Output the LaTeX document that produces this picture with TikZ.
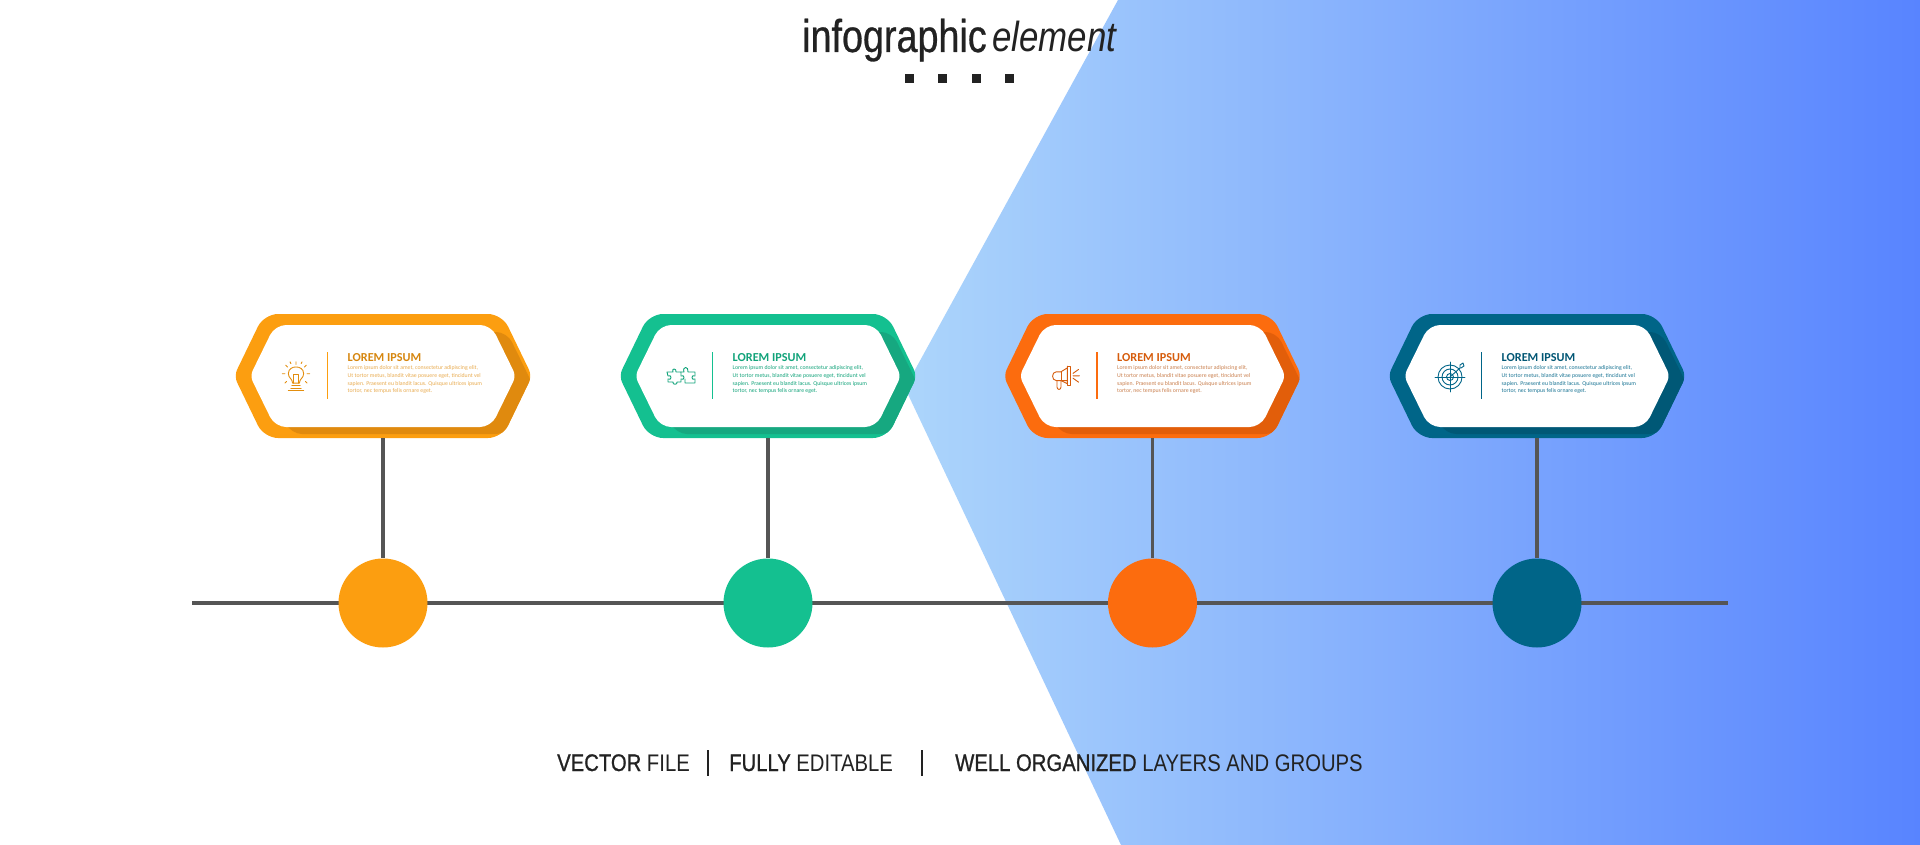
\documentclass[tikz,border=0pt]{standalone}
\usepackage{fontspec}
\usepackage{xcolor}
\setmainfont{Liberation Sans}
\newfontfamily\cardfont{Carlito}
\newfontfamily\condfont[FakeStretch=0.82, FakeBold=0.6]{Liberation Sans}
\newfontfamily\slimfont[FakeStretch=0.83]{Liberation Sans}
\newfontfamily\wordfont[FakeStretch=0.845]{Liberation Sans}
\newfontfamily\wordheavy[FakeStretch=0.845, FakeBold=0.9]{Liberation Sans}
\usetikzlibrary{positioning, calc, arrows.meta}
\definecolor{igAmber}{RGB}{252, 158, 16}
\definecolor{igAmberDk}{RGB}{224, 138, 14}
\definecolor{igGreen}{RGB}{20, 192, 144}
\definecolor{igGreenDk}{RGB}{22, 168, 128}
\definecolor{igOrange}{RGB}{252, 108, 14}
\definecolor{igOrangeDk}{RGB}{226, 94, 10}
\definecolor{igTeal}{RGB}{0, 101, 136}
\definecolor{igTealDk}{RGB}{0, 88, 118}
\definecolor{igInk}{RGB}{34, 34, 34}
\definecolor{igLine}{RGB}{85, 85, 85}
\definecolor{igSkyL}{RGB}{172, 213, 251}
\definecolor{igSkyM}{RGB}{122, 170, 251}
\definecolor{igSkyR}{RGB}{88, 132, 255}
\tikzset{
    cardbox/.style={
        rectangle,
        minimum width=295,
        minimum height=124,
        inner sep=0
    },
    dot/.style={
        circle,
        minimum size=89,
        inner sep=0
    },
    stem/.style={
        line width=3.5pt,
        color=igLine
    },
    cardhead/.style={
        font=\cardfont\bfseries\fontsize{12.2}{12}\selectfont,
        anchor=west,
        inner sep=0
    },
    cardbody/.style={
        font=\cardfont\fontsize{5.8}{7.9}\selectfont,
        anchor=north west,
        align=left,
        inner sep=0
    },
    iconline/.style={
        line width=0.9pt,
        line cap=round,
        line join=round
    },
    word/.style={
        font=\wordfont\fontsize{24}{24}\selectfont,
        text=igInk,
        anchor=base west,
        inner sep=0
    },
    tick/.style={
        rectangle,
        minimum size=9,
        inner sep=0,
        fill=igInk
    }
}
\newcommand{\hexsides}[6]{% centre x, half width, half height, inset, tip radius, shoulder radius
    (#1,{376-#3}) [rounded corners=#6] -- ({#1+#2-#4},{376-#3}) [rounded corners=#5] -- ({#1+#2},376)
    [rounded corners=#6] -- ({#1+#2-#4},{376+#3}) -- ({#1-#2+#4},{376+#3}) [rounded corners=#5] -- ({#1-#2},376)
    [rounded corners=#6] -- ({#1-#2+#4},{376-#3}) -- cycle}
\newcommand{\hexcard}[5]{% name, centre x, colour, shadow colour, text tint
    \node[cardbox] (card#1) at (#2,376) {};
    \fill[#3] \hexsides{#2}{149}{62}{30}{7}{14};
    \begin{scope}
        \clip \hexsides{#2}{149}{62}{30}{7}{14};
        \begin{scope}[shift={(16,7)}]
            \fill[#4] \hexsides{#2}{133}{51}{25}{6}{11};
        \end{scope}
    \end{scope}
    \fill[white] \hexsides{#2}{133}{51}{25}{6}{11};
    \draw[#3, line width=1.2pt] ({#2-55.5},352) -- ({#2-55.5},399);
    \node[cardhead, text=#3!85!black] (head#1) at ({#2-35.5},358) {LOREM IPSUM};
    \node[cardbody, text=#5] (body#1) at ({#2-35.5},365) {Lorem ipsum dolor sit amet, consectetur adipiscing elit,\\
        Ut tortor metus, blandit vitae posuere eget, tincidunt vel\\
        sapien. Praesent eu blandit lacus. Quisque ultrices ipsum\\
        tortor, nec tempus felis ornare eget.};
}

\begin{document}
\begin{tikzpicture}[x=1pt, y=-1pt]
    \useasboundingbox (0,0) rectangle (1920,845);
    \fill[white] (0,0) rectangle (1920,845);

    % Blue backdrop
    \shade[left color=igSkyL, middle color=igSkyM, right color=igSkyR]
        (1118,0) -- (905,388) -- (1121,845) -- (1920,845) -- (1920,0) -- cycle;

    % Title
    \node[font=\condfont\fontsize{46}{46}\selectfont, text=igInk, anchor=base west, inner sep=0] (title) at (802,52) {infographic};
    \node[font=\slimfont\itshape\fontsize{42}{42}\selectfont, text=igInk, anchor=base west, inner sep=0] (titleB) at (992,52) {element};
    \node[tick] (tickA) at (909,79) {};
    \node[tick] (tickB) at (942,79) {};
    \node[tick] (tickC) at (976,79) {};
    \node[tick] (tickD) at (1009,79) {};

    % Timeline
    \coordinate (lineL) at (192,603);
    \coordinate (lineR) at (1728,603);
    \draw[stem] (lineL) -- (lineR);

    % Cards
    \hexcard{A}{383}{igAmber}{igAmberDk}{igAmber!70!white!92!black}
    \hexcard{B}{768}{igGreen}{igGreenDk}{igGreen!85!black}
    \hexcard{C}{1152.5}{igOrange}{igOrangeDk}{igOrange!65!white!80!black}
    \hexcard{D}{1537}{igTeal}{igTealDk}{igTeal!90!white}

    % Dots
    \node[dot, fill=igAmber] (dotA) at (383,603) {};
    \node[dot, fill=igGreen] (dotB) at (768,603) {};
    \node[dot, fill=igOrange] (dotC) at (1152.5,603) {};
    \node[dot, fill=igTeal] (dotD) at (1537,603) {};
    \draw[stem] (cardA.south) -- (dotA.north);
    \draw[stem] (cardB.south) -- (dotB.north);
    \draw[stem] (cardC.south) -- (dotC.north);
    \draw[stem] (cardD.south) -- (dotD.north);

    % Bulb icon
    \begin{scope}[shift={(296,378)}, scale=0.85, iconline, igAmber!90!black]
        \draw (-4,6) .. controls (-4,1) and (-9,0) .. (-9,-5) .. controls (-9,-11) and (-4,-13) .. (0,-13)
            .. controls (4,-13) and (9,-11) .. (9,-5) .. controls (9,0) and (4,1) .. (4,6) -- cycle;
        \draw (-2.5,6) -- (-2.5,-4) -- (2.5,-4) -- (2.5,6);
        \draw (-5,9) -- (5,9) (-6,12) -- (6,12) (-9,15) -- (9,15);
        \draw (0,-16) -- (0,-19) (-10,-13) -- (-12,-15) (10,-13) -- (12,-15);
        \draw (-13,-5) -- (-16,-5) (13,-5) -- (16,-5) (-11,4) -- (-13,6) (11,4) -- (13,6);
        \draw (-6,-17) -- (-7,-19) (6,-17) -- (7,-19);
    \end{scope}

    % Puzzle icon
    \begin{scope}[shift={(681,377)}, iconline, igGreen!85!black]
        \draw (-14,-5) -- (-8,-5) .. controls (-10,-9) and (-4,-9) .. (-5,-5) -- (0,-5) -- (0,-1)
            .. controls (4,-3) and (4,4) .. (0,2) -- (0,5) -- (-4,5) .. controls (-3,8) and (-9,8) .. (-8,5)
            -- (-13,5) -- (-13,2) .. controls (-9,4) and (-9,-3) .. (-13,-1) -- (-14,-5) -- cycle;
        \draw (0,-5) -- (3,-5) .. controls (1,-11) and (8,-11) .. (7,-5) -- (14,-5) -- (14,-1)
            .. controls (10,-3) and (10,4) .. (14,2) -- (14,6) -- (4,6) -- (4,2);
    \end{scope}

    % Megaphone icon
    \begin{scope}[shift={(1065,375)}, scale=0.8, iconline, igOrange!85!black]
        \draw (-5,-4) -- (-11,-4) .. controls (-17,-4) and (-17,7) .. (-11,7) -- (3,7);
        \draw (-5,-4) -- (3,-9) -- (3,11) -- (-5,7);
        \draw (-5,-4) -- (-5,7) (3,-11) -- (7,-11) -- (7,13) -- (3,13) -- (3,-11);
        \draw (-10,7) -- (-10,15) .. controls (-10,19) and (-5,19) .. (-5,15) -- (-5,7);
        \draw (10,-2) -- (17,-7) (10,1) -- (18,1) (10,4) -- (17,9);
    \end{scope}

    % Target icon
    \begin{scope}[shift={(1450,377)}, iconline, igTeal]
        \draw (0,0) circle (12);
        \draw (0,0) circle (8);
        \draw (0,0) circle (3.5);
        \draw (-15,0) -- (15,0) (0,-15) -- (0,15);
        \draw (0,0) -- (10,-9) -- (10,-12) -- (13,-14) -- (14,-11) -- (11,-9);
    \end{scope}

    % Footer
    \node[word] (wordA) at (557,771) {{\wordheavy VECTOR} FILE};
    \node[word] (wordB) at (729,771) {{\wordheavy FULLY} EDITABLE};
    \node[word] (wordC) at (955,771) {{\wordheavy WELL ORGANIZED} LAYERS AND GROUPS};
    \coordinate (barAt) at (708,750);
    \coordinate (barAb) at (708,776);
    \coordinate (barBt) at (922,750);
    \coordinate (barBb) at (922,776);
    \draw[igInk, line width=1.3pt] (barAt) -- (barAb);
    \draw[igInk, line width=1.3pt] (barBt) -- (barBb);
\end{tikzpicture}
\end{document}
